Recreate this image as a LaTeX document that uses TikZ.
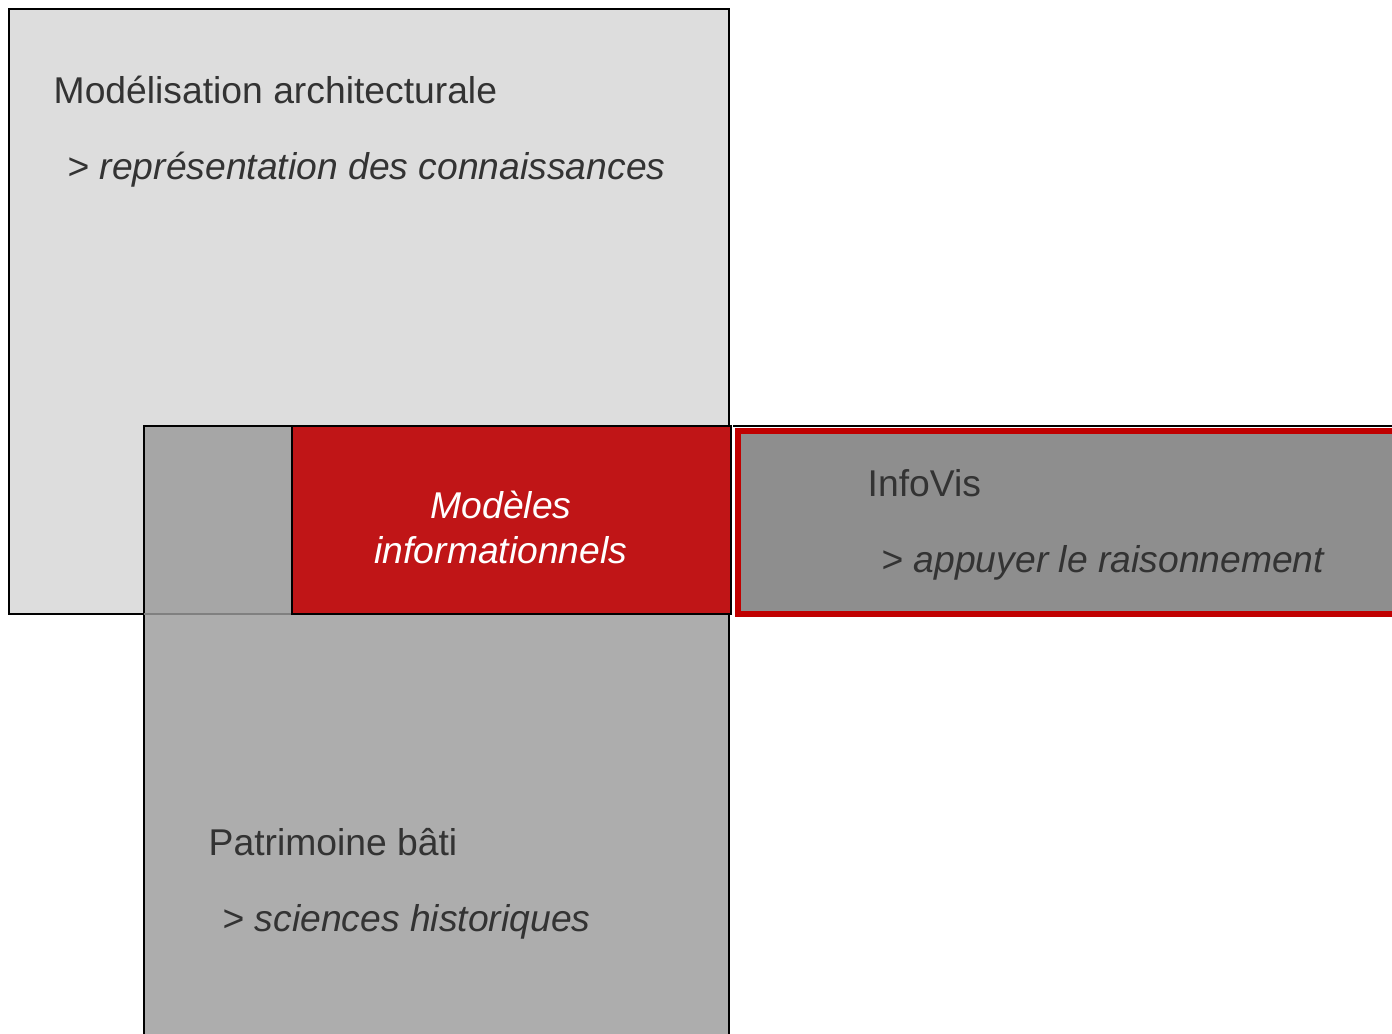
\documentclass[tikz,border=0pt]{standalone}
\usepackage{fontspec}
\setmainfont{Liberation Sans}
\usepackage{tikz}
\usetikzlibrary{positioning}

\definecolor{boxlight}{HTML}{DDDDDD}
\definecolor{boxmid}{HTML}{ADADAD}
\definecolor{boxover}{HTML}{A6A6A6}
\definecolor{boxdark}{HTML}{8E8E8E}
\definecolor{redfill}{HTML}{C01517}
\definecolor{redline}{HTML}{C00000}
\definecolor{txt}{HTML}{333333}

\begin{document}
\begin{tikzpicture}[
        x=0.01cm, y=-0.01cm,
        every node/.style={font=\fontsize{10.6pt}{12.8pt}\selectfont, text=txt, inner sep=0pt},
        title/.style={anchor=base west},
        sub/.style={anchor=base west, font=\fontsize{10.6pt}{12.8pt}\selectfont\itshape},
        boxline/.style={draw=black, line width=0.6pt}
    ]
    \useasboundingbox (0,0) rectangle (1392,1033);

    % Boxes
    \fill[boxlight] (9,9) rectangle (729,614);
    \draw[boxline] (9,9) rectangle (729,614);
    \fill[boxmid] (144,426) rectangle (729,1040);
    \fill[boxover] (144,426) rectangle (292,614);
    \draw[boxline] (144,1040) -- (144,426) -- (729,426) -- (729,1040);
    \draw[gray, line width=0.4pt] (144,614) -- (292,614);
    \draw[boxline, fill=redfill] (292,426) rectangle (731,614);
    \draw[draw=black, line width=0.5pt] (733,426) -- (1400,426);
    \draw[draw=redline, line width=1.6pt, fill=boxdark] (738,431) rectangle (1400,614);

    % Nodes
    \node[title] (archi) at (53,103) {Modélisation architecturale};
    \node[sub] (archisub) at (67,179) {> représentation des connaissances};

    \node[align=center, text=white, font=\fontsize{10.6pt}{12.8pt}\selectfont\itshape]
        (modeles) at (501,527) {Modèles\\informationnels};

    \node[title] (infovis) at (867,496) {InfoVis};
    \node[sub] (infovissub) at (881,572) {> appuyer le raisonnement};

    \node[title] (patri) at (208,855) {Patrimoine bâti};
    \node[sub] (patrisub) at (222,931) {> sciences historiques};

\end{tikzpicture}
\end{document}
